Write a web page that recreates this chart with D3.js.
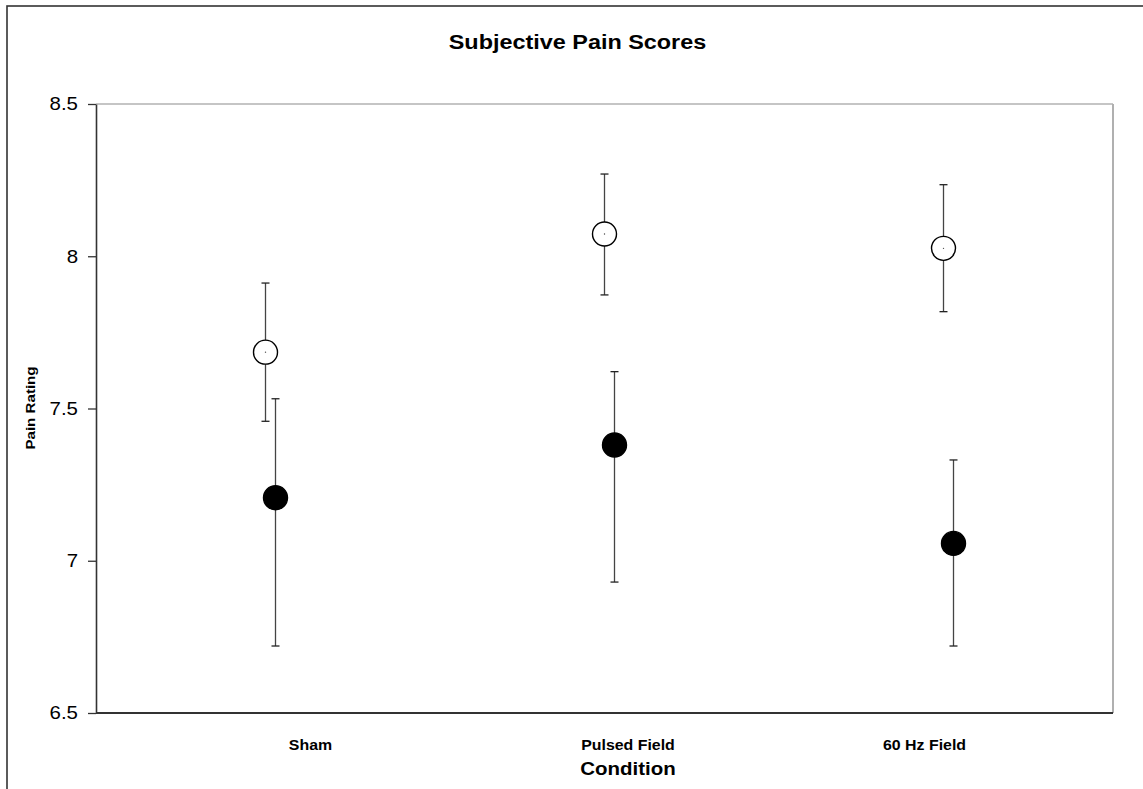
<!DOCTYPE html>
<html>
<head>
<meta charset="utf-8">
<script src="https://cdn.jsdelivr.net/npm/d3@7"></script>
<style>
  html, body { margin: 0; padding: 0; background: #fff; }
  svg { display: block; font-family: "Liberation Sans", Arial, sans-serif; }
</style>
</head>
<body>
<svg id="chart" width="1143" height="789"></svg>
<script>
// Conditions along the x axis
const categories = ["Sham", "Pulsed Field", "60 Hz Field"];

// Open-circle series: means and error-bar ends
const openMeans = [7.685, 8.073, 8.026];
const openUpper = [7.912, 8.270, 8.235];
const openLower = [7.458, 7.873, 7.818];

// Filled-circle series: means and error-bar ends
const filledMeans = [7.207, 7.380, 7.057];
const filledUpper = [7.532, 7.621, 7.331];
const filledLower = [6.720, 6.930, 6.720];

// Y axis ticks
const yTicks = [6.5, 7, 7.5, 8, 8.5];
const yTickLabels = ["6.5", "7", "7.5", "8", "8.5"];

const title = "Subjective Pain Scores";
const xTitle = "Condition";
const yTitle = "Pain Rating";

const svg = d3.select("#chart");
const W = 1143, H = 789;
const plot = { left: 96, right: 1113, top: 104, bottom: 713 };

// widen text a little: the lettering runs broader than Liberation Sans
function widen(sel, factor) {
  sel.each(function () {
    const len = this.getComputedTextLength();
    d3.select(this)
      .attr("textLength", len * factor)
      .attr("lengthAdjust", "spacingAndGlyphs");
  });
}

// outer frame (runs off the right and bottom edges)
svg.append("rect")
  .attr("x", 7).attr("y", 6)
  .attr("width", W + 20).attr("height", H + 20)
  .attr("fill", "#fff")
  .attr("stroke", "#333").attr("stroke-width", 1.6);

const x = d3.scaleBand().domain(categories).range([plot.left, plot.right]);
const y = d3.scaleLinear().domain([6.5, 8.5]).range([plot.bottom, plot.top]);
const seriesShift = d3.scalePoint().domain(["open", "filled"]).range([0, 10]);

// light frame on top and right of the plot area
svg.append("line")
  .attr("x1", plot.left).attr("x2", plot.right)
  .attr("y1", plot.top).attr("y2", plot.top)
  .attr("stroke", "#8c8c8c").attr("stroke-width", 1.2);
svg.append("line")
  .attr("x1", plot.right).attr("x2", plot.right)
  .attr("y1", plot.top).attr("y2", plot.bottom)
  .attr("stroke", "#b0b0b0").attr("stroke-width", 2);

// y axis
const yAxis = d3.axisLeft(y)
  .tickValues(yTicks)
  .tickFormat((d, i) => yTickLabels[i])
  .tickSize(8).tickSizeOuter(0).tickPadding(10);
const gy = svg.append("g")
  .attr("transform", `translate(${plot.left},0)`)
  .call(yAxis);
gy.select(".domain").attr("stroke", "#333").attr("stroke-width", 1.6);
gy.selectAll(".tick line").attr("stroke", "#333").attr("stroke-width", 1.3);
gy.selectAll(".tick text")
  .attr("fill", "#000")
  .style("font-size", "18.6px")
  .style("font-family", "'Liberation Sans', Arial, sans-serif");
widen(gy.selectAll(".tick text"), 1.1);

// x axis baseline
svg.append("line")
  .attr("x1", plot.left).attr("x2", plot.right)
  .attr("y1", plot.bottom).attr("y2", plot.bottom)
  .attr("stroke", "#333").attr("stroke-width", 1.8);

// category labels
const labelAnchor = d3.scaleOrdinal().domain(categories).range([310.5, 628, 924.5]);
const catLabels = svg.append("g").selectAll("text")
  .data(categories)
  .join("text")
  .attr("x", d => labelAnchor(d))
  .attr("y", 750)
  .attr("text-anchor", "middle")
  .style("font-size", "15px")
  .style("font-weight", "bold")
  .text(d => d);
widen(catLabels, 1.06);

// titles
const titleText = svg.append("text")
  .attr("x", 577.5).attr("y", 49)
  .attr("text-anchor", "middle")
  .style("font-size", "20px").style("font-weight", "bold")
  .text(title);
widen(titleText, 1.17);

const xTitleText = svg.append("text")
  .attr("x", 628).attr("y", 775)
  .attr("text-anchor", "middle")
  .style("font-size", "17.5px").style("font-weight", "bold")
  .text(xTitle);
widen(xTitleText, 1.17);

const yTitleText = svg.append("text")
  .attr("transform", "translate(34.5,408) rotate(-90)")
  .attr("text-anchor", "middle")
  .style("font-size", "13.5px").style("font-weight", "bold")
  .text(yTitle);
widen(yTitleText, 1.12);

// series with error bars
const series = [
  { key: "open", means: openMeans, upper: openUpper, lower: openLower, fill: "#fff" },
  { key: "filled", means: filledMeans, upper: filledUpper, lower: filledLower, fill: "#000" }
];
const capHalf = 4;
const r = 12;

series.forEach(s => {
  const g = svg.append("g");
  const rows = categories.map((c, i) => ({
    cx: x(c) + x.bandwidth() / 2 + seriesShift(s.key),
    m: s.means[i], hi: s.upper[i], lo: s.lower[i]
  }));
  g.selectAll("line.bar").data(rows).join("line")
    .attr("class", "bar")
    .attr("x1", d => d.cx).attr("x2", d => d.cx)
    .attr("y1", d => y(d.hi)).attr("y2", d => y(d.lo))
    .attr("stroke", "#444").attr("stroke-width", 1.3);
  g.selectAll("line.capHi").data(rows).join("line")
    .attr("class", "capHi")
    .attr("x1", d => d.cx - capHalf).attr("x2", d => d.cx + capHalf)
    .attr("y1", d => y(d.hi)).attr("y2", d => y(d.hi))
    .attr("stroke", "#222").attr("stroke-width", 1.3);
  g.selectAll("line.capLo").data(rows).join("line")
    .attr("class", "capLo")
    .attr("x1", d => d.cx - capHalf).attr("x2", d => d.cx + capHalf)
    .attr("y1", d => y(d.lo)).attr("y2", d => y(d.lo))
    .attr("stroke", "#222").attr("stroke-width", 1.3);
  g.selectAll("circle.pt").data(rows).join("circle")
    .attr("class", "pt")
    .attr("cx", d => d.cx).attr("cy", d => y(d.m))
    .attr("r", r)
    .attr("fill", s.fill)
    .attr("stroke", "#000").attr("stroke-width", 1.4);
  if (s.key === "open") {
    g.selectAll("circle.dot").data(rows).join("circle")
      .attr("class", "dot")
      .attr("cx", d => d.cx).attr("cy", d => y(d.m))
      .attr("r", 0.7).attr("fill", "#444");
  }
});
</script>
</body>
</html>
